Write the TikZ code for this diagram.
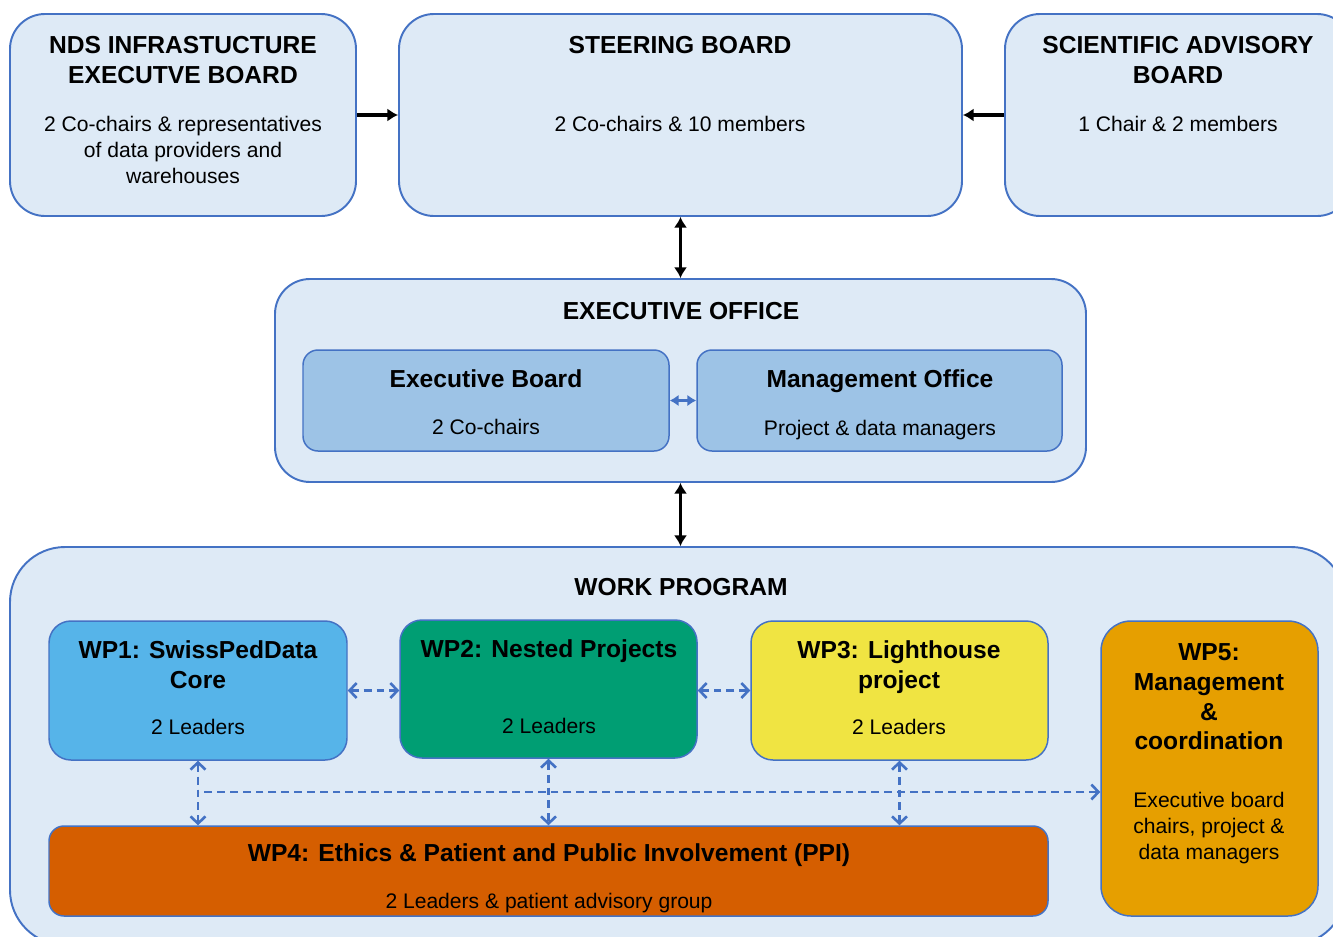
\documentclass[tikz,border=0pt]{standalone}
\usepackage{fontspec}
\setmainfont{Liberation Sans}
\usetikzlibrary{fit,arrows.meta}
\definecolor{lineblue}{HTML}{4472C4}
\definecolor{paleblue}{HTML}{DEEAF6}
\definecolor{midblue}{HTML}{9DC3E6}
\definecolor{wpone}{HTML}{56B4E9}
\definecolor{wptwo}{HTML}{009E73}
\definecolor{wpthree}{HTML}{F0E442}
\definecolor{wpfour}{HTML}{D55E00}
\definecolor{wpfive}{HTML}{E69F00}
\tikzset{
  panel/.style={draw=lineblue, fill=paleblue, line width=1.1pt, inner sep=0pt, rounded corners=0.7cm},
  subpanel/.style={draw=lineblue, line width=0.85pt, inner sep=0pt, rounded corners=0.44cm},
  title/.style={anchor=north, inner sep=0pt, align=center, font=\bfseries\fontsize{14}{17}\selectfont},
  body/.style={anchor=north, inner sep=0pt, align=center, font=\fontsize{12}{14.7}\selectfont},
  solidlink/.style={line width=2pt, {Latex[length=6pt,width=7.5pt]}-{Latex[length=6pt,width=7.5pt]}},
  dashlink/.style={draw=lineblue, line width=1.5pt, dash pattern=on 4.5pt off 2.8pt,
    {Straight Barb[length=4pt,width=8.5pt]}-{Straight Barb[length=4pt,width=8.5pt]}}
}
\begin{document}
\begin{tikzpicture}[x=0.02cm, y=-0.02cm]
\useasboundingbox[fill=white] (0,0) rectangle (1333,937);
\node[panel, fit={(10,14) (356,216)}] (nds) {};
\node[panel, fit={(399,14) (962,216)}] (steer) {};
\node[panel, fit={(1005,14) (1352,216)}] (sab) {};
\node[panel, fit={(275,279) (1086,482)}] (eo) {};
\node[panel, fit={(10,547) (1346,945)}, rounded corners=1.1cm] (wp) {};
\node[panel, fill=midblue, line width=0.85pt, rounded corners=0.3cm, fit={(303,350) (669,451)}] (eb) {};
\node[panel, fill=midblue, line width=0.85pt, rounded corners=0.3cm, fit={(697,350) (1062,451)}] (mo) {};
\node[subpanel, fill=wpone, fit={(49,621) (347,760)}] (wp1) {};
\node[subpanel, fill=wptwo, fit={(400,620) (697,758)}] (wp2) {};
\node[subpanel, fill=wpthree, fit={(751,621) (1048,760)}] (wp3) {};
\node[subpanel, fill=wpfour, rounded corners=0.3cm, fit={(49,826) (1048,916)}] (wp4) {};
\node[subpanel, fill=wpfive, rounded corners=0.6cm, fit={(1101,621) (1318,916)}] (wp5) {};

\node[title] (ndsT) at (183,36) {NDS INFRASTUCTURE\\EXECUTVE BOARD};
\node[body] (ndsB) at (183,116) {2 Co-chairs \& representatives\\of data providers and\\warehouses};
\node[title] (steerT) at (680,36) {STEERING BOARD};
\node[body] (steerB) at (680,116) {2 Co-chairs \& 10 members};
\node[title] (sabT) at (1178,36) {SCIENTIFIC ADVISORY\\BOARD};
\node[body] (sabB) at (1178,116) {1 Chair \& 2 members};
\node[title] (eoT) at (681,302) {EXECUTIVE OFFICE};
\node[title] (ebT) at (486,369) {Executive Board};
\node[body] (ebB) at (486,419) {2 Co-chairs};
\node[title] (moT) at (880,369) {Management Office};
\node[body] (moB) at (880,420) {Project \& data managers};
\node[title] (wpT) at (681,578) {WORK PROGRAM};
\node[title] (wp1T) at (198,640) {WP1: SwissPedData\\Core};
\node[body] (wp1B) at (198,719) {2 Leaders};
\node[title] (wp2T) at (549,639) {WP2: Nested Projects};
\node[body] (wp2B) at (549,718) {2 Leaders};
\node[title] (wp3T) at (899,640) {WP3: Lighthouse\\project};
\node[body] (wp3B) at (899,719) {2 Leaders};
\node[title] (wp4T) at (549,843) {WP4: Ethics \& Patient and Public Involvement (PPI)};
\node[body] (wp4B) at (549,893) {2 Leaders \& patient advisory group};
\node[title] (wp5T) at (1209,643) {WP5:\\Management\\\&\\coordination};
\node[body] (wp5B) at (1209,792) {Executive board\\chairs, project \&\\data managers};

\draw[line width=2pt, -{Latex[length=6pt,width=7.5pt]}] (nds.east) -- (steer.west);
\draw[line width=2pt, -{Latex[length=6pt,width=7.5pt]}] (sab.west) -- (steer.east);
\draw[solidlink] (steer.south) -- (eo.north);
\draw[solidlink] (eo.south) -- (eo.south |- wp.north);
\draw[lineblue, line width=1.5pt, {Latex[length=5pt,width=6.5pt]}-{Latex[length=5pt,width=6.5pt]}] (eb.east) -- (mo.west);
\draw[dashlink] (wp1.east) -- (wp1.east -| wp2.west);
\draw[dashlink] (wp3.west |- wp1.east) -- (wp1.east -| wp2.east);
\draw[dashlink] (wp1.south) -- (wp1.south |- wp4.north);
\draw[dashlink] (wp2.south) -- (wp2.south |- wp4.north);
\draw[dashlink] (wp3.south) -- (wp3.south |- wp4.north);
\coordinate (hub) at (wp1.south |- 0,792);
\draw[dashlink, {Straight Barb[length=4pt,width=8.5pt]}-] (hub -| wp5.west) -- (hub);
\end{tikzpicture}
\end{document}
